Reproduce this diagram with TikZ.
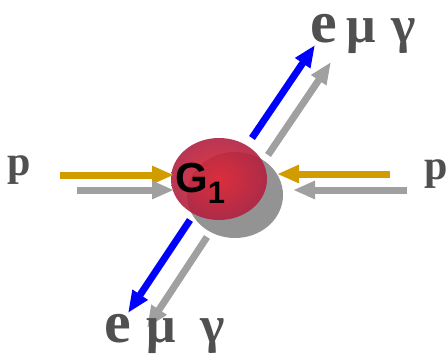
\documentclass[tikz,border=0pt]{standalone}
\usepackage{fontspec}
\setmainfont{Liberation Serif}
\newfontfamily\gfont{Liberation Sans}
\usepackage{xcolor}
\usetikzlibrary{arrows.meta,shadings}
\definecolor{gold}{HTML}{D09C00}
\definecolor{beamgray}{HTML}{A0A0A0}
\definecolor{ink}{HTML}{505050}
\definecolor{ballin}{HTML}{E42434}
\definecolor{ballout}{HTML}{B02040}

\begin{document}
\begin{tikzpicture}[x=1pt, y=1pt,
    beam/.style={line width=7pt, -{Triangle[length=22pt, width=17pt]}},
    lep/.style={anchor=base, text=ink, inner sep=0pt, text height=30pt, font=\fontsize{52}{52}\selectfont\bfseries},
    lepb/.style={lep, font=\fontsize{60}{60}\selectfont\bfseries},
    prot/.style={anchor=base, text=ink, inner sep=0pt, font=\fontsize{42}{42}\selectfont\bfseries},
]
\useasboundingbox (0,0) rectangle (448,360);
% ball and its shadow
\fill[gray!85] (235,165) ellipse [x radius=48, y radius=43];
\shade[inner color=ballin, outer color=ballout, opacity=0.9] (219,181) ellipse [x radius=48, y radius=41];
\node[anchor=base west, inner sep=0pt, font=\gfont\bfseries\fontsize{42}{42}\selectfont] (g) at (175,168)
    {G\raisebox{-11pt}{\fontsize{31}{31}\selectfont 1}};
% end points of the beams
\coordinate (bu0) at (252,222); \coordinate (bu1) at (315,315);
\coordinate (su0) at (268,205); \coordinate (su1) at (331,298);
\coordinate (bd0) at (190,140); \coordinate (bd1) at (128,47);
\coordinate (sd0) at (207,123); \coordinate (sd1) at (147,32);
\coordinate (gl0) at (60,185);  \coordinate (gl1) at (174,185);
\coordinate (sl0) at (77,170);  \coordinate (sl1) at (174,170);
\coordinate (gr0) at (390,186); \coordinate (gr1) at (277,186);
\coordinate (sr0) at (407,170); \coordinate (sr1) at (293,170);
\draw[beam, blue] (bu0) -- (bu1);
\draw[beam, beamgray] (su0) -- (su1);
\draw[beam, blue] (bd0) -- (bd1);
\draw[beam, beamgray] (sd0) -- (sd1);
\draw[beam, gold] (gl0) -- (gl1);
\draw[beam, beamgray] (sl0) -- (sl1);
\draw[beam, gold] (gr0) -- (gr1);
\draw[beam, beamgray] (sr0) -- (sr1);
% labels
\node[prot] (pl) at (19,185) {p};
\node[prot] (pr) at (436,181) {p};
\node[lepb] (et) at (324,318) {e};
\node[lep] (mt) at (361,318) {μ};
\node[lep] (yt) at (404,318) {γ};
\node[lepb] (eb) at (118,18) {e};
\node[lep] (mb) at (161,18) {μ};
\node[lep] (yb) at (213,18) {γ};
\end{tikzpicture}
\end{document}
